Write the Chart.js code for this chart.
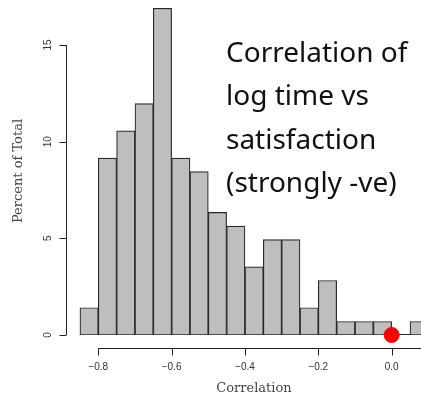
<!DOCTYPE html>
<html>
<head>
<meta charset="utf-8">
<script src="https://cdn.jsdelivr.net/npm/chart.js@4"></script>
<style>
  html, body { margin: 0; padding: 0; background: #fff; overflow: hidden; }
  canvas { display: block; }
</style>
</head>
<body>
<canvas id="histChart" width="421" height="398"></canvas>
<script>
// histogram bins (left edge of each 0.05 wide bin) and percent of total
const binStarts = [-0.85, -0.80, -0.75, -0.70, -0.65, -0.60, -0.55, -0.50, -0.45, -0.40,
                   -0.35, -0.30, -0.25, -0.20, -0.15, -0.10, -0.05, 0.00, 0.05];
const percents = [1.41, 9.15, 10.56, 11.97, 16.90, 9.15, 8.45, 6.34, 5.63, 3.52,
                  4.93, 4.93, 1.41, 2.82, 0.70, 0.70, 0.70, 0, 0.70];
const binWidth = 0.05;

// axis ticks
const xTicks = [-0.8, -0.6, -0.4, -0.2, 0.0, 0.2];
const xTickLabels = ["\u22120.8", "\u22120.6", "\u22120.4", "\u22120.2", "0.0", "0.2"];
const yTicks = [0, 5, 10, 15];

// the red marker
const markerX = [0.0];
const markerY = [0];

const noteLines = ["Correlation of", "log time vs", "satisfaction", "(strongly -ve)"];

// R style detached axes, titles and the note
const rAxes = {
  id: "rAxes",
  beforeDatasetsDraw(chart) {
    const ctx = chart.ctx;
    const x = chart.scales.x, y = chart.scales.y;
    // base line under all bins (shows the empty bin as a line)
    ctx.save();
    ctx.strokeStyle = "#2a2a2a";
    ctx.lineWidth = 1;
    const by = Math.round(y.getPixelForValue(0)) - 0.5;
    ctx.beginPath();
    ctx.moveTo(x.getPixelForValue(binStarts[0]), by);
    ctx.lineTo(x.getPixelForValue(binStarts[binStarts.length - 1] + binWidth), by);
    ctx.stroke();
    ctx.restore();
  },
  afterDraw(chart) {
    const ctx = chart.ctx;
    const x = chart.scales.x, y = chart.scales.y;
    ctx.save();
    ctx.strokeStyle = "#222";
    ctx.lineWidth = 1;

    // y axis
    const ax = 66.5;
    ctx.beginPath();
    ctx.moveTo(ax, y.getPixelForValue(yTicks[0]));
    ctx.lineTo(ax, y.getPixelForValue(yTicks[yTicks.length - 1]));
    yTicks.forEach(v => {
      const py = Math.round(y.getPixelForValue(v)) + 0.5;
      ctx.moveTo(ax, py);
      ctx.lineTo(ax - 7, py);
    });
    ctx.stroke();
    ctx.fillStyle = "#333";
    ctx.font = "10px 'Liberation Sans', Arial, sans-serif";
    ctx.textAlign = "center";
    ctx.textBaseline = "middle";
    yTicks.forEach(v => {
      ctx.save();
      ctx.translate(48, y.getPixelForValue(v));
      ctx.rotate(-Math.PI / 2);
      ctx.fillText(String(v), 0, 0);
      ctx.restore();
    });

    // x axis
    const ay = 348.5;
    ctx.beginPath();
    ctx.moveTo(x.getPixelForValue(xTicks[0]), ay);
    ctx.lineTo(x.getPixelForValue(xTicks[xTicks.length - 1]), ay);
    xTicks.forEach(v => {
      const px = Math.round(x.getPixelForValue(v)) + 0.5;
      ctx.moveTo(px, ay);
      ctx.lineTo(px, ay + 7);
    });
    ctx.stroke();
    xTicks.forEach((v, i) => {
      ctx.fillText(xTickLabels[i], x.getPixelForValue(v), 367);
    });

    // axis titles
    ctx.fillStyle = "#444";
    ctx.font = "13px 'DejaVu Serif', serif";
    ctx.fillText("Correlation", 254, 389);
    ctx.save();
    ctx.translate(19, 171);
    ctx.rotate(-Math.PI / 2);
    ctx.fillText("Percent of Total", 0, 0);
    ctx.restore();

    // note
    ctx.fillStyle = "#111";
    ctx.font = "28px 'Noto Sans', sans-serif";
    ctx.textAlign = "left";
    ctx.textBaseline = "alphabetic";
    noteLines.forEach((t, i) => ctx.fillText(t, 226, 62 + i * 43.3));
    ctx.restore();
  }
};

window.onload = function () {
  const ctx = document.getElementById("histChart").getContext("2d");
  new Chart(ctx, {
    type: "bar",
    data: {
      datasets: [
        {
          label: "Percent",
          data: binStarts.map((s, i) => ({ x: s + binWidth / 2, y: percents[i] })),
          backgroundColor: "#bebebe",
          borderColor: "#2a2a2a",
          borderWidth: 1.2,
          borderSkipped: false,
          barPercentage: 1,
          categoryPercentage: 1,
          order: 2
        },
        {
          type: "scatter",
          label: "marker",
          data: markerX.map((v, i) => ({ x: v, y: markerY[i] })),
          backgroundColor: "#ff0000",
          borderColor: "#ff0000",
          pointRadius: 7.5,
          clip: false,
          order: 1
        }
      ]
    },
    options: {
      responsive: false,
      animation: false,
      layout: { autoPadding: false, padding: { left: 66, right: 0, top: 5, bottom: 63 } },
      plugins: { legend: { display: false }, tooltip: { enabled: false } },
      scales: {
        x: { type: "linear", display: false, offset: false, min: -0.888, max: 0.08 },
        y: { display: false, min: 0, max: 17.07 }
      }
    },
    plugins: [rAxes]
  });
};
</script>
</body>
</html>
